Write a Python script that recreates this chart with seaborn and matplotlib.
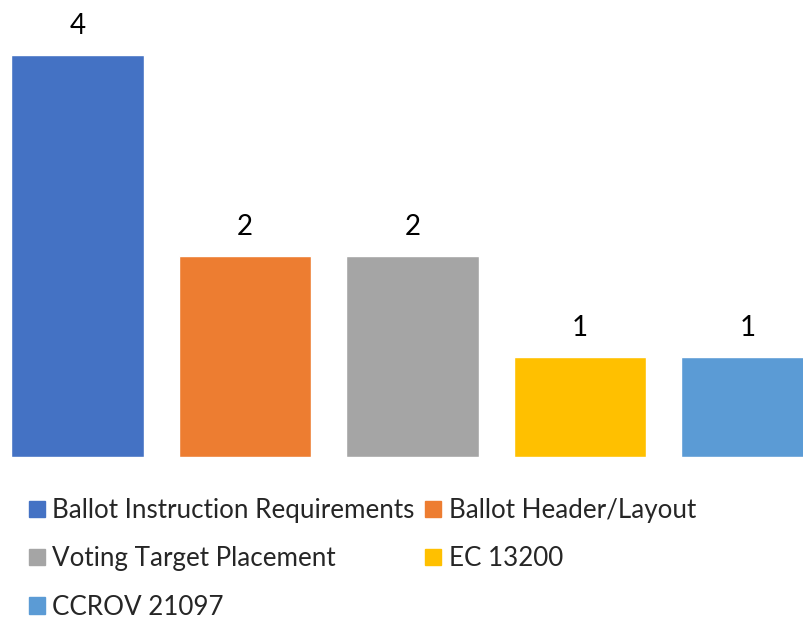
import matplotlib
matplotlib.use("Agg")
import matplotlib.pyplot as plt
import matplotlib.patches as mpatches
import seaborn as sns

categories = ["Ballot Instruction Requirements", "Ballot Header/Layout",
              "Voting Target Placement", "EC 13200", "CCROV 21097"]
values = [4, 2, 2, 1, 1]
colors = ["#4472C4", "#ED7D31", "#A5A5A5", "#FFC000", "#5B9BD5"]

sns.set_theme(style="white")
plt.rcParams['font.family'] = ['Lato', 'DejaVu Sans']

W, H = 804, 619
fig = plt.figure(figsize=(W / 100, H / 100), dpi=100)
ax = fig.add_axes([0, (H - 457) / H, 1, 457 / H])

sns.barplot(x=categories, y=values, hue=categories, palette=colors,
            width=0.794, dodge=False, legend=False, ax=ax, saturation=1)

slot = 167.5
x0 = -(77.5 / slot)
ax.set_xlim(x0, x0 + W / slot)
ax.set_ylim(0, 457 / 100.5)

for c in ax.containers:
    ax.bar_label(c, fmt="%d", padding=11.5, fontsize=20, color="#000000")

ax.set_axis_off()

handles = [mpatches.Patch(color=col, label=cat) for cat, col in zip(categories, colors)]
order = [0, 2, 4, 1, 3]
fig.legend([handles[i] for i in order], [categories[i] for i in order],
           ncol=2, loc="upper left",
           bbox_to_anchor=(29 / W, 1 - 498 / H), bbox_transform=fig.transFigure,
           frameon=False, fontsize=18.7, handlelength=0.6, handleheight=0.6,
           handletextpad=0.3, columnspacing=0.4, labelspacing=0.9,
           borderpad=0, borderaxespad=0)

fig.savefig("out.png", dpi=100)
